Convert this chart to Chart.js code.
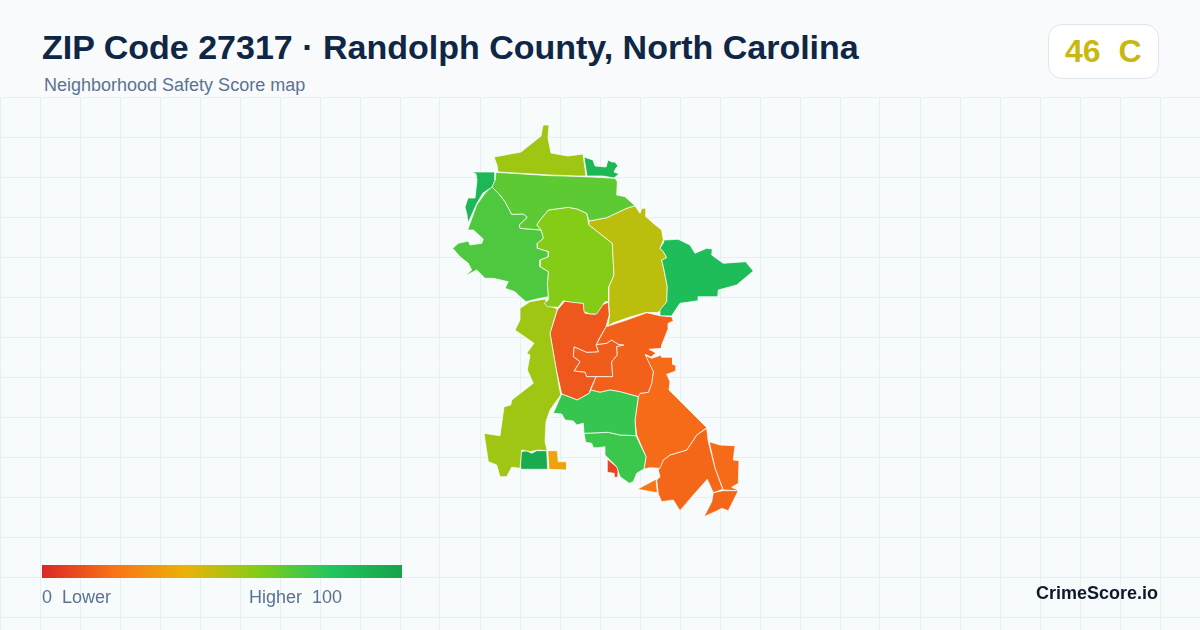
<!DOCTYPE html>
<html><head><meta charset="utf-8">
<script src="https://cdn.jsdelivr.net/npm/chart.js@4/dist/chart.umd.min.js"></script>
<style>
html,body{margin:0;padding:0;width:1200px;height:630px;overflow:hidden;background:#f8fafc;font-family:"Liberation Sans",Arial,sans-serif}
#wrap{position:absolute;left:0;top:97px;width:1200px;height:533px;background:#f8fbfc}
.t{position:absolute;white-space:pre;line-height:1}
#title{left:42px;top:30px;font-size:34px;font-weight:700;color:#0f2744}
#sub{left:44px;top:76px;font-size:18px;color:#5b7390}
#badge{position:absolute;left:1048px;top:24px;width:109px;height:53px;background:#fff;border:1px solid #e0e6ee;border-radius:14px;box-sizing:content-box}
#grade{left:1065px;top:35px;font-size:32px;font-weight:700;color:#c9b80f}
#bar{position:absolute;left:42px;top:565px;width:360px;height:13px}
.lg{top:588px;font-size:18px;color:#5b7390}
#brand{right:42px;top:584px;font-size:18px;font-weight:700;color:#0f172a}
</style></head><body>
<div id="wrap"><canvas id="c" width="1200" height="533"></canvas></div>
<div class="t" id="title">ZIP Code 27317 · Randolph County, North Carolina</div>
<div class="t" id="sub">Neighborhood Safety Score map</div>
<div id="badge"></div><div class="t" id="grade"></div>
<div id="bar"></div>
<div class="t lg" id="lo" style="left:42px"></div>
<div class="t lg" id="hi" style="left:249px"></div>
<div class="t" id="brand">CrimeScore.io</div>
<script>
const overallScore = 46;
const overallGrade = "C";
const rampStops = [0, 20, 40, 60, 80, 100];
const rampColors = ["#dc2626", "#f97316", "#eab308", "#84cc16", "#22c55e", "#16a34a"];
const gridX = [0,40,80,120,160,200,240,280,320,360,400,440,480,520,560,600,640,680,720,760,800,840,880,920,960,1000,1040,1080,1120,1160,1200];
const gridY = [97,137,177,217,257,297,337,377,417,457,497,537,577,617];

const northTip = [[494,157],[521,152],[541,136],[543,125],[549,125],[548,138],[551,153],[568,156],[583,154],[586,176],[577,176],[550,175],[498,172],[497,165]];
const northEastBit = [[584,157],[593,160],[595,166],[606,167],[608,160],[612,162],[615,162],[618,166],[616,168],[614,172],[619,174],[614,178],[603,176],[587,176]];
const westStrip = [[472,172],[495,172],[495,180],[492,187],[483,193],[477,203],[468,223],[467,215],[465,207],[468,198],[475,198],[477,180],[476,174]];
const upperBand = [[496,172.3],[550,175.7],[576.7,176.3],[615,178.3],[617.3,181.7],[616.7,195],[625,196.7],[635,205.7],[626.7,208.3],[606.7,217.7],[589,221],[586.7,213.3],[577.3,209],[568.3,207.3],[548.3,210],[540,220],[536.7,225],[541,230],[520,228.3],[519.3,225],[527.3,217.3],[523.3,214],[511.7,214.3],[505,201.7],[499.3,194.3],[491.7,186.7],[495,180]];
const westLobe = [[491.7,186.7],[499.3,194.3],[505,201.7],[511.7,214.3],[523.3,214],[527.3,217.3],[519.3,225],[520,228.3],[541,230],[543.3,238.3],[537.3,243.3],[537.3,248.3],[548.3,251.7],[548.3,256.7],[540,260],[540,266.7],[548.3,271.7],[547.3,285],[548.3,296.7],[536.7,299],[526,301.7],[520,296.7],[515,291.7],[505,288.3],[508.3,281.7],[493.3,278.3],[485,278.3],[476.7,270],[465,276],[471.7,270],[468.3,263.3],[460,256.7],[452.7,248.3],[458.3,243.3],[468.3,241],[470,245],[481.7,243.3],[483.3,239],[473.3,230],[467.7,230],[476.7,205],[485,193.3]];
const centerLobe = [[548.3,210],[568.3,207.3],[577.3,209],[586.7,213.3],[589,225],[612.3,243.3],[614,275],[609,286.7],[608.7,301.7],[605,301.7],[596.7,314],[590,314],[584,311.7],[583.3,303.3],[571.7,302.3],[563.3,300.7],[558.3,307.3],[547.3,306.7],[544.3,303.3],[548.3,300],[548.3,296.7],[547.3,285],[548.3,271.7],[540,266.7],[540,260],[548.3,256.7],[548.3,251.7],[537.3,248.3],[537.3,243.3],[543.3,238.3],[541,230],[536.7,225],[540,220]];
const oliveBlock = [[589,221],[606.7,217.7],[626.7,208.3],[635,205.7],[640,213.3],[641.7,208.3],[646.7,208.3],[646,216.7],[653.3,223.3],[661.7,230],[663.3,240],[660,248.3],[663.3,251.7],[666.7,257.7],[661.7,260],[664,270],[667.3,286.7],[666.7,301.7],[660,311.7],[656.7,312.5],[646,312.5],[630,317],[613,323],[608,326],[609.5,315],[608.7,301.7],[609,286.7],[614,275],[612.3,243.3],[589,225]];
const eastWing = [[664,240],[678.3,239.3],[690,245],[695,253.3],[706.7,248.3],[712.3,249],[711.7,255],[723.3,263.3],[745.7,261.7],[753.3,271],[736.7,285],[718.3,290],[717.7,296.7],[698.3,296.7],[698.3,300.7],[680,303.3],[673.3,313.3],[671.7,316],[660,315.7],[660,310],[666.7,301.7],[667.3,286.7],[664,270],[661.7,260],[666.7,257.7],[663.3,251.7],[660,248.3],[663.3,243]];
const southWestArm = [[520,308.3],[530,301.7],[545,299],[548.3,305],[557.3,309],[550,333.3],[556,368.3],[560.7,395],[550,410],[546,421.7],[545,441.7],[547.3,450.7],[538.3,450],[530,451.7],[521.7,450],[520,468.3],[511.7,467.3],[506.7,476.7],[500,476.7],[496.7,465],[488.3,461.7],[484,433.3],[500,435.7],[504,406.7],[510.7,405],[511.7,400],[533.3,383.3],[527.3,370],[530,355],[526.7,353.3],[534,343.3],[515,330],[520,320]];
const townWest = [[565,301],[583.3,303.3],[585,313.3],[595,314.3],[601.7,305],[608.3,302.3],[609.3,315],[606,326.7],[599.3,338.3],[596,345],[598.3,351.7],[586.7,352.3],[574,346.7],[573.3,356.7],[580,361.7],[574,371],[585,372.3],[586.7,376.7],[596,376.7],[590.7,388.3],[589.3,393.3],[577.3,400],[561.7,394],[556,368.3],[550,333.3],[557.3,310]];
const townCore = [[574,346.7],[586.7,352.3],[598.3,351.7],[596,345],[598.3,344.3],[606.7,343.3],[611.7,340],[618.3,344.3],[624,345],[616.7,346.7],[617.3,355],[611.7,361.7],[612.7,376.7],[596,376.7],[586.7,376.7],[585,372.3],[574,371],[580,361.7],[573.3,356.7]];
const townEast = [[606,326.7],[626.7,320],[646.7,312.7],[660,315.7],[671.7,316.7],[673.3,321],[668.3,323.3],[668.3,328.3],[661.7,345],[661.7,348.3],[649,349.3],[656,353],[651,357],[645,354.3],[653.3,371.7],[651.7,383.3],[648.3,392.3],[640,393.3],[638.3,396.7],[620,391.7],[610,390],[600,392.3],[590.7,390],[596,376.7],[612.7,376.7],[611.7,361.7],[617.3,355],[616.7,346.7],[624,345],[618.3,344.3],[611.7,340],[606.7,343.3],[598.3,344.3],[596,345]];
const southEastBig = [[644.3,355],[651.7,358.3],[661.7,355],[661.7,357.3],[672.7,357.3],[672.7,364.3],[676.7,365.7],[676,371],[666.7,374.3],[670,381.7],[669,390],[706.7,427.7],[696.7,435],[686.7,450],[670,455],[663.3,460],[660,468.3],[650,467.7],[644,469],[646,456.7],[636.7,435],[635,420],[638.3,396.7],[640,393.3],[648.3,392.3],[651.7,383.3],[653.3,371.7]];
const southLobe = [[706.7,428.3],[708.3,441.7],[715,468.3],[722.7,489.3],[713.3,492.7],[707.3,479.3],[693.3,495],[680,510.7],[673.3,500],[661.7,501.7],[658.3,494],[656.7,480],[660,476.7],[658.3,470],[663.3,460],[670,455],[686.7,450],[696.7,435]];
const southTip = [[713.3,492.7],[722.7,490.7],[738.3,490.7],[728.3,510.7],[721.7,508.3],[717.3,510.7],[704,516.7],[711.7,501.7]];
const eastTab = [[709.3,441.7],[720,445],[735,445.7],[733.3,460],[739,460.7],[738.3,483.3],[731.7,487.3],[739.3,490.7],[723.3,490],[715,468.3]];
const sliverWedge = [[637.3,489.3],[656,479.3],[657.3,492.7]];
const midGreen = [[561.7,394],[577.3,400],[589.3,393.3],[590.7,390],[600,392.3],[610,390],[620,391.7],[638.3,396.7],[635,420],[636,435.7],[620,435],[608.3,432.3],[584,433.3],[583.3,423.3],[576.7,425],[573.3,421],[565,420],[561.7,414],[553.3,413.3]];
const lowGreen = [[584,433.3],[608.3,432.3],[620,435],[636,435.7],[646,456.7],[644,469],[636.7,473.3],[633.3,481.7],[629.3,483.3],[620,476.7],[616.7,466.7],[605,455],[605,446.7],[598.3,447.7],[593.3,447.7],[591.7,443.3],[585.7,442.3]];
const redSpeck = [[607.3,459],[618.3,468.3],[617.7,477.3],[614.3,477.3],[614.3,473.3],[607.3,472.3]];
const darkBlock = [[520.7,451.7],[526.7,450.7],[531.7,453.3],[536.7,450.7],[546.7,450.7],[547.7,469.3],[520,469.3]];
const amberStep = [[547.7,450.7],[557.3,450.7],[558.3,461.7],[566.7,461.7],[566.7,470],[549,469.3]];

const regions = [northTip,northEastBit,westStrip,upperBand,westLobe,eastWing,oliveBlock,centerLobe,southWestArm,midGreen,lowGreen,townWest,townEast,townCore,southEastBig,southLobe,eastTab,southTip,sliverWedge,redSpeck,darkBlock,amberStep];
const regionScores = [55,88,88,68,71,85,49,60,55,76,75,13,15,14,18,17,18,17,21,8,95,35];

function hexRgb(h){return [1,3,5].map(i=>parseInt(h.substr(i,2),16));}
function scoreColor(s){
  let i=0; while(i<rampStops.length-2 && s>rampStops[i+1]) i++;
  const t=(s-rampStops[i])/(rampStops[i+1]-rampStops[i]);
  const a=hexRgb(rampColors[i]),b=hexRgb(rampColors[i+1]);
  return "rgb("+a.map((v,k)=>Math.round(v+(b[k]-v)*t)).join(",")+")";
}
document.getElementById("grade").textContent = overallScore+"  "+overallGrade;
document.getElementById("lo").textContent = rampStops[0]+"  Lower";
document.getElementById("hi").textContent = "Higher  "+rampStops[rampStops.length-1];
document.getElementById("bar").style.background = "linear-gradient(90deg,"+rampColors.map((c,i)=>c+" "+rampStops[i]+"%").join(",")+")";

new Chart(document.getElementById("c"),{
  type:"scatter",
  data:{datasets:regions.map((r,i)=>({
    label:"Area "+(i+1),
    data:r.concat([r[0]]).map(p=>({x:p[0],y:p[1]})),
    showLine:true,fill:"shape",tension:0,
    backgroundColor:scoreColor(regionScores[i]),
    borderColor:"rgba(255,255,255,0.9)",borderWidth:0.8,borderJoinStyle:"round",
    pointRadius:0,pointHoverRadius:0,clip:false
  }))},
  options:{
    responsive:false,animation:false,devicePixelRatio:1,
    events:[],
    layout:{padding:0},
    plugins:{legend:{display:false},tooltip:{enabled:false},filler:{drawTime:"beforeDatasetDraw"}},
    scales:{
      x:{type:"linear",min:0,max:1200,
        afterBuildTicks:a=>{a.ticks=gridX.map(v=>({value:v}));},
        ticks:{display:false},border:{display:false},
        grid:{color:"#e6f0f3",lineWidth:1,drawTicks:false,tickLength:0}},
      y:{type:"linear",min:97,max:630,reverse:true,
        afterBuildTicks:a=>{a.ticks=gridY.map(v=>({value:v}));},
        ticks:{display:false},border:{display:false},
        grid:{color:"#e6f0f3",lineWidth:1,drawTicks:false,tickLength:0}}
    }
  }
});
</script>
</body></html>
